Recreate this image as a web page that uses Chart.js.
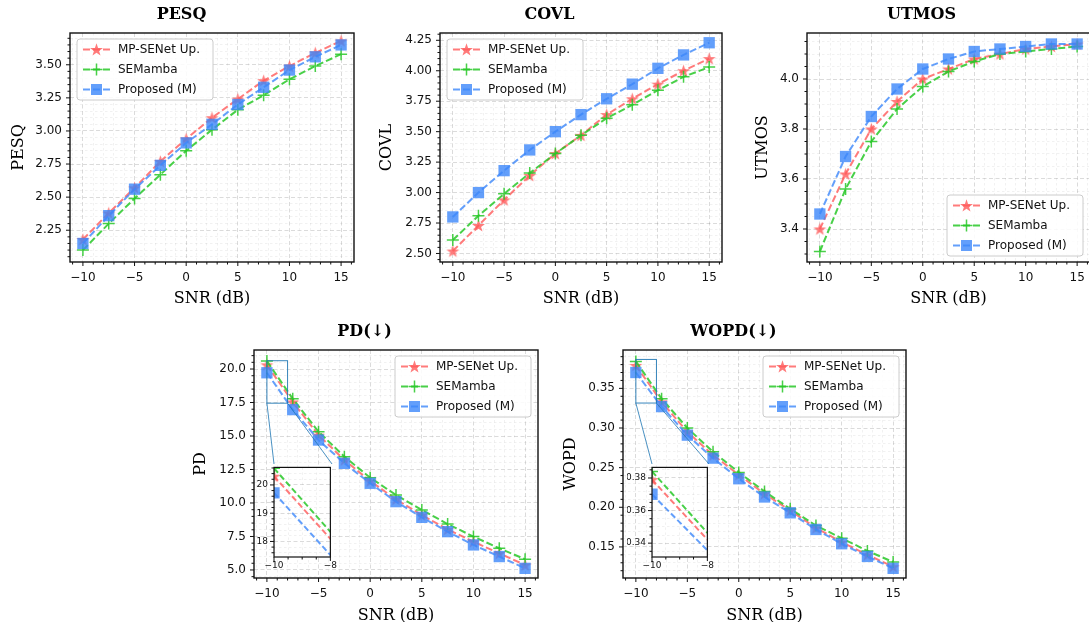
<!DOCTYPE html>
<html>
<head>
<meta charset="utf-8">
<script src="https://cdn.jsdelivr.net/npm/chart.js@4.4.1/dist/chart.umd.min.js"></script>
<style>
  html, body { margin: 0; padding: 0; background: #fff; }
  body { width: 1089px; height: 622px; overflow: hidden; position: relative; }
  canvas { position: absolute; }
</style>
</head>
<body>
<canvas id="pesq"></canvas>
<canvas id="covl"></canvas>
<canvas id="utmos"></canvas>
<canvas id="pd"></canvas>
<canvas id="wopd"></canvas>
<canvas id="pdZoom"></canvas>
<canvas id="wopdZoom"></canvas>
<script>
// ---- data ----
const snr = [-10, -7.5, -5, -2.5, 0, 2.5, 5, 7.5, 10, 12.5, 15];
const seriesNames = ['MP-SENet Up.', 'SEMamba', 'Proposed (M)'];

const pesqMpsenet  = [2.18, 2.38, 2.57, 2.77, 2.94, 3.10, 3.24, 3.38, 3.49, 3.59, 3.68];
const pesqSemamba  = [2.10, 2.30, 2.49, 2.67, 2.85, 3.01, 3.16, 3.27, 3.39, 3.49, 3.58];
const pesqProposed = [2.15, 2.36, 2.56, 2.74, 2.91, 3.05, 3.20, 3.33, 3.46, 3.56, 3.65];

const covlMpsenet  = [2.52, 2.73, 2.94, 3.14, 3.32, 3.47, 3.64, 3.77, 3.89, 4.00, 4.10];
const covlSemamba  = [2.61, 2.81, 2.99, 3.16, 3.32, 3.47, 3.61, 3.72, 3.84, 3.95, 4.03];
const covlProposed = [2.80, 3.00, 3.18, 3.35, 3.50, 3.64, 3.77, 3.89, 4.02, 4.13, 4.23];

const utmosMpsenet  = [3.40, 3.62, 3.80, 3.91, 4.00, 4.04, 4.08, 4.10, 4.12, 4.13, 4.14];
const utmosSemamba  = [3.31, 3.56, 3.75, 3.88, 3.97, 4.03, 4.07, 4.10, 4.11, 4.12, 4.13];
const utmosProposed = [3.46, 3.69, 3.85, 3.96, 4.04, 4.08, 4.11, 4.12, 4.13, 4.14, 4.14];

const pdMpsenet  = [20.31, 17.54, 15.07, 13.21, 11.64, 10.27, 9.10, 8.03, 7.11, 6.24, 5.37];
const pdSemamba  = [20.59, 17.78, 15.32, 13.46, 11.89, 10.60, 9.48, 8.43, 7.49, 6.62, 5.80];
const pdProposed = [19.72, 16.97, 14.70, 12.96, 11.47, 10.10, 8.93, 7.86, 6.87, 6.00, 5.12];

const wopdMpsenet  = [0.379, 0.333, 0.295, 0.266, 0.241, 0.217, 0.196, 0.174, 0.156, 0.140, 0.125];
const wopdSemamba  = [0.384, 0.337, 0.300, 0.270, 0.244, 0.220, 0.198, 0.177, 0.161, 0.145, 0.131];
const wopdProposed = [0.370, 0.327, 0.291, 0.262, 0.236, 0.213, 0.193, 0.172, 0.154, 0.138, 0.123];

// ---- ticks ----
const xTicks = [-10, -5, 0, 5, 10, 15];
const pesqYTicks = [2.25, 2.5, 2.75, 3.0, 3.25, 3.5];
const covlYTicks = [2.5, 2.75, 3.0, 3.25, 3.5, 3.75, 4.0, 4.25];
const utmosYTicks = [3.4, 3.6, 3.8, 4.0];
const pdYTicks = [5, 7.5, 10, 12.5, 15, 17.5, 20];
const wopdYTicks = [0.15, 0.2, 0.25, 0.3, 0.35];
const zoomXTicks = [-10, -8];
const pdZoomYTicks = [18, 19, 20];
const wopdZoomYTicks = [0.34, 0.36, 0.38];

// zoomed windows
const zoomSnr = [-10, -8];
const pdZoomRange = [17.45, 20.62];
const wopdZoomRange = [0.3315, 0.3865];

// ---- styling ----
Chart.defaults.font.family = 'DejaVu Sans';
const C_RED = 'rgba(255,90,90,0.8)';
const C_GREEN = 'rgba(40,200,40,0.85)';
const C_BLUE = 'rgba(60,135,250,0.8)';
const EDGE = 'rgba(31,119,180,0.9)';

function starImage(color) {
  const c = document.createElement('canvas');
  c.width = 15; c.height = 15;
  const g = c.getContext('2d');
  g.fillStyle = color;
  g.beginPath();
  for (let i = 0; i < 10; i++) {
    const r = i % 2 ? 2.7 : 6.8;
    const a = -Math.PI / 2 + i * Math.PI / 5;
    g.lineTo(7.5 + r * Math.cos(a), 8.1 + r * Math.sin(a));
  }
  g.closePath();
  g.fill();
  return c;
}
const STAR = starImage(C_RED);

function fmt(v, dec) {
  return (v < 0 ? '\u2212' : '') + Math.abs(v).toFixed(dec);
}

function stepTicks(min, max, step) {
  const out = [];
  for (let k = Math.ceil(min / step - 1e-9); k <= Math.floor(max / step + 1e-9); k++) {
    out.push(parseFloat((k * step).toFixed(10)));
  }
  return out;
}

function makeDatasets(mp, se, prop, small) {
  const pts = ys => snr.map((x, i) => ({ x: x, y: ys[i] }));
  const common = {
    borderWidth: 2, borderDash: small ? [6, 3] : [7, 3], tension: 0, fill: false, clip: 0
  };
  return [
    Object.assign({}, common, {
      label: seriesNames[0], data: pts(mp), borderColor: C_RED, order: 2,
      pointStyle: STAR, pointRadius: 6
    }),
    Object.assign({}, common, {
      label: seriesNames[1], data: pts(se), borderColor: C_GREEN, order: 1,
      pointStyle: 'cross', pointRadius: 6, pointBorderWidth: 1.5, pointBorderColor: C_GREEN
    }),
    Object.assign({}, common, {
      label: seriesNames[2], data: pts(prop), borderColor: C_BLUE, order: 0,
      pointStyle: 'rect', pointRadius: 8, pointBorderWidth: 0, pointBackgroundColor: C_BLUE
    })
  ];
}

function axis(min, max, minorStep, majors, dec, fontSize, pad, size, isX) {
  const isMajor = v => majors.some(m => Math.abs(m - v) < minorStep / 100);
  return {
    type: 'linear', min: min, max: max,
    afterBuildTicks: s => { s.ticks = stepTicks(min, max, minorStep).map(v => ({ value: v })); },
    afterFit: s => { if (isX) s.height = size; else s.width = size; },
    ticks: {
      autoSkip: false, maxRotation: 0, minRotation: 0, padding: pad, color: '#111',
      font: { size: fontSize },
      callback: v => isMajor(v) ? fmt(v, dec) : ''
    },
    grid: {
      drawTicks: false, lineWidth: 0.8,
      color: c => (c.tick && isMajor(c.tick.value)) ? 'rgba(0,0,0,0.18)' : 'rgba(0,0,0,0.07)'
    },
    border: {
      display: false,
      dash: c => (c.tick && isMajor(c.tick.value)) ? [4, 2.5] : [2.5, 2.5]
    }
  };
}

function drawLegend(ctx, a, pos) {
  const w = 136, h = 61;
  const x = pos[1] === 'l' ? a.left + 7 : a.right - 7 - w;
  const y = pos[0] === 'u' ? a.top + 6 : a.bottom - 6 - h;
  ctx.save();
  const r = 3;
  ctx.beginPath();
  ctx.moveTo(x + r, y);
  ctx.arcTo(x + w, y, x + w, y + h, r);
  ctx.arcTo(x + w, y + h, x, y + h, r);
  ctx.arcTo(x, y + h, x, y, r);
  ctx.arcTo(x, y, x + w, y, r);
  ctx.closePath();
  ctx.fillStyle = 'rgba(255,255,255,0.85)';
  ctx.fill();
  ctx.strokeStyle = '#cccccc';
  ctx.lineWidth = 1;
  ctx.stroke();
  const colors = [C_RED, C_GREEN, C_BLUE];
  seriesNames.forEach((name, i) => {
    const yy = y + 10.5 + i * 20;
    ctx.setLineDash([7, 3]);
    ctx.lineWidth = 2;
    ctx.strokeStyle = colors[i];
    ctx.beginPath();
    ctx.moveTo(x + 6, yy);
    ctx.lineTo(x + 33, yy);
    ctx.stroke();
    ctx.setLineDash([]);
    const mx = x + 19.5;
    if (i === 0) {
      ctx.drawImage(STAR, mx - STAR.width / 2, yy - STAR.height / 2);
    } else if (i === 1) {
      ctx.lineWidth = 1.5;
      ctx.beginPath();
      ctx.moveTo(mx - 6, yy); ctx.lineTo(mx + 6, yy);
      ctx.moveTo(mx, yy - 6); ctx.lineTo(mx, yy + 6);
      ctx.stroke();
    } else {
      ctx.fillStyle = C_BLUE;
      ctx.fillRect(mx - 5.5, yy - 5.5, 11, 11);
    }
    ctx.fillStyle = '#111';
    ctx.font = '12px "DejaVu Sans"';
    ctx.textBaseline = 'middle';
    ctx.textAlign = 'left';
    ctx.fillText(name, x + 41, yy + 0.5);
  });
  ctx.restore();
}

function buildChart(cfg) {
  const el = document.getElementById(cfg.id);
  const b = cfg.box;
  const titleH = cfg.title ? 33 : 0;
  const padT = cfg.padT || 0, padR = cfg.padR || 4;
  const left = b.l - cfg.yW, top = b.t - titleH - padT;
  const W = cfg.yW + (b.r - b.l) + padR;
  const H = padT + titleH + (b.b - b.t) + cfg.xH;
  Object.assign(el.style, { left: left + 'px', top: top + 'px', width: W + 'px', height: H + 'px' });
  el.width = W;
  el.height = H;

  const decor = {
    id: 'decor',
    beforeDraw(chart) {
      const a = chart.chartArea, ctx = chart.ctx;
      ctx.save();
      ctx.fillStyle = '#fff';
      ctx.fillRect(a.left, a.top, a.width, a.height);
      ctx.restore();
    },
    afterDatasetsDraw(chart) {
      const a = chart.chartArea, ctx = chart.ctx;
      const xs = chart.scales.x, ys = chart.scales.y;
      ctx.save();
      if (cfg.zoom) {
        const z = cfg.zoom;
        const px0 = xs.getPixelForValue(zoomSnr[0]), px1 = xs.getPixelForValue(zoomSnr[1]);
        const py0 = ys.getPixelForValue(z.range[1]), py1 = ys.getPixelForValue(z.range[0]);
        const ib = { l: z.box.l - left, r: z.box.r - left, t: z.box.t - top };
        ctx.strokeStyle = EDGE;
        ctx.lineWidth = 1;
        ctx.strokeRect(px0, py0, px1 - px0, py1 - py0);
        ctx.lineWidth = 0.9;
        ctx.beginPath();
        ctx.moveTo(px0, py1); ctx.lineTo(ib.l, ib.t);
        ctx.moveTo(px1, py1); ctx.lineTo(ib.r, ib.t);
        ctx.stroke();
      }
      // frame
      ctx.strokeStyle = '#111';
      ctx.lineWidth = cfg.small ? 1.2 : 1.4;
      ctx.strokeRect(a.left, a.top, a.width, a.height);
      // tick marks (major + minor)
      ctx.lineWidth = 1;
      ctx.beginPath();
      xs.ticks.forEach(t => {
        const p = xs.getPixelForValue(t.value);
        const len = t.label ? 4 : 2.5;
        ctx.moveTo(p, a.bottom); ctx.lineTo(p, a.bottom + len);
      });
      ys.ticks.forEach(t => {
        const p = ys.getPixelForValue(t.value);
        const len = t.label ? 4 : 2.5;
        ctx.moveTo(a.left, p); ctx.lineTo(a.left - len, p);
      });
      ctx.stroke();
      ctx.restore();
      if (cfg.legend) drawLegend(ctx, a, cfg.legend);
    }
  };

  const fs = cfg.small ? 9 : 12;
  const xAxis = axis(cfg.xRange[0], cfg.xRange[1], cfg.xMinor, cfg.xTicks, 0, fs, cfg.small ? 3 : 9, cfg.xH, true);
  const yAxis = axis(cfg.yRange[0], cfg.yRange[1], cfg.yMinor, cfg.yTicks, cfg.yDec, fs, cfg.small ? 6 : 8, cfg.yW, false);
  if (!cfg.small) {
    xAxis.title = { display: true, text: 'SNR (dB)', color: '#000',
      font: { family: 'DejaVu Serif', size: 16, lineHeight: 1.125 }, padding: { top: 0, bottom: 2 } };
    yAxis.title = { display: true, text: cfg.yLabel, color: '#000',
      font: { family: 'DejaVu Serif', size: 16, lineHeight: 1.125 }, padding: { top: 5, bottom: 0 } };
  }

  new Chart(el, {
    type: 'line',
    data: { datasets: makeDatasets(cfg.series[0], cfg.series[1], cfg.series[2], cfg.small) },
    options: {
      responsive: false, animation: false, devicePixelRatio: 1,
      layout: { padding: { left: 0, right: padR, top: padT, bottom: 0 } },
      plugins: {
        legend: { display: false },
        tooltip: { enabled: false },
        title: {
          display: !!cfg.title, text: cfg.title, color: '#000',
          font: { family: 'DejaVu Serif', size: 16, weight: 'bold', lineHeight: 1.125 },
          padding: { top: 6, bottom: 9 }
        }
      },
      scales: { x: xAxis, y: yAxis }
    },
    plugins: [decor]
  });
}

const xFull = [-11.25, 16.25];
const pdZoomBox = { l: 274, t: 464, r: 332, b: 557 };
const wopdZoomBox = { l: 652, t: 464, r: 709, b: 557 };

buildChart({ id: 'pesq', title: 'PESQ', yLabel: 'PESQ', box: { l: 70, t: 33, r: 358, b: 262 }, yW: 65, xH: 48,
  xRange: xFull, xMinor: 1, xTicks: xTicks, yRange: [2.01, 3.74], yMinor: 0.05, yTicks: pesqYTicks, yDec: 2,
  series: [pesqMpsenet, pesqSemamba, pesqProposed], legend: 'ul' });
buildChart({ id: 'covl', title: 'COVL', yLabel: 'COVL', box: { l: 440, t: 33, r: 726, b: 262 }, yW: 67, xH: 48,
  xRange: xFull, xMinor: 1, xTicks: xTicks, yRange: [2.43, 4.31], yMinor: 0.05, yTicks: covlYTicks, yDec: 2,
  series: [covlMpsenet, covlSemamba, covlProposed], legend: 'ul' });
buildChart({ id: 'utmos', title: 'UTMOS', yLabel: 'UTMOS', box: { l: 807, t: 33, r: 1094, b: 262 }, yW: 58, xH: 48,
  xRange: xFull, xMinor: 1, xTicks: xTicks, yRange: [3.268, 4.184], yMinor: 0.05, yTicks: utmosYTicks, yDec: 1,
  series: [utmosMpsenet, utmosSemamba, utmosProposed], legend: 'lr' });
buildChart({ id: 'pd', title: 'PD(\u2193)', yLabel: 'PD', box: { l: 254, t: 350, r: 542, b: 578 }, yW: 67, xH: 49,
  xRange: xFull, xMinor: 1, xTicks: xTicks, yRange: [4.40, 21.42], yMinor: 0.5, yTicks: pdYTicks, yDec: 1,
  series: [pdMpsenet, pdSemamba, pdProposed], legend: 'ur',
  zoom: { range: pdZoomRange, box: pdZoomBox } });
buildChart({ id: 'wopd', title: 'WOPD(\u2193)', yLabel: 'WOPD', box: { l: 623, t: 350, r: 910, b: 578 }, yW: 66, xH: 49,
  xRange: xFull, xMinor: 1, xTicks: xTicks, yRange: [0.1108, 0.3984], yMinor: 0.01, yTicks: wopdYTicks, yDec: 2,
  series: [wopdMpsenet, wopdSemamba, wopdProposed], legend: 'ur',
  zoom: { range: wopdZoomRange, box: wopdZoomBox } });

// insets
buildChart({ id: 'pdZoom', small: true, box: pdZoomBox, yW: 25, xH: 16, padT: 8, padR: 8,
  xRange: zoomSnr, xMinor: 0.5, xTicks: zoomXTicks, yRange: pdZoomRange, yMinor: 0.2, yTicks: pdZoomYTicks, yDec: 0,
  series: [pdMpsenet, pdSemamba, pdProposed] });
buildChart({ id: 'wopdZoom', small: true, box: wopdZoomBox, yW: 25, xH: 16, padT: 8, padR: 8,
  xRange: zoomSnr, xMinor: 0.5, xTicks: zoomXTicks, yRange: wopdZoomRange, yMinor: 0.005, yTicks: wopdZoomYTicks, yDec: 2,
  series: [wopdMpsenet, wopdSemamba, wopdProposed] });
</script>
</body>
</html>
